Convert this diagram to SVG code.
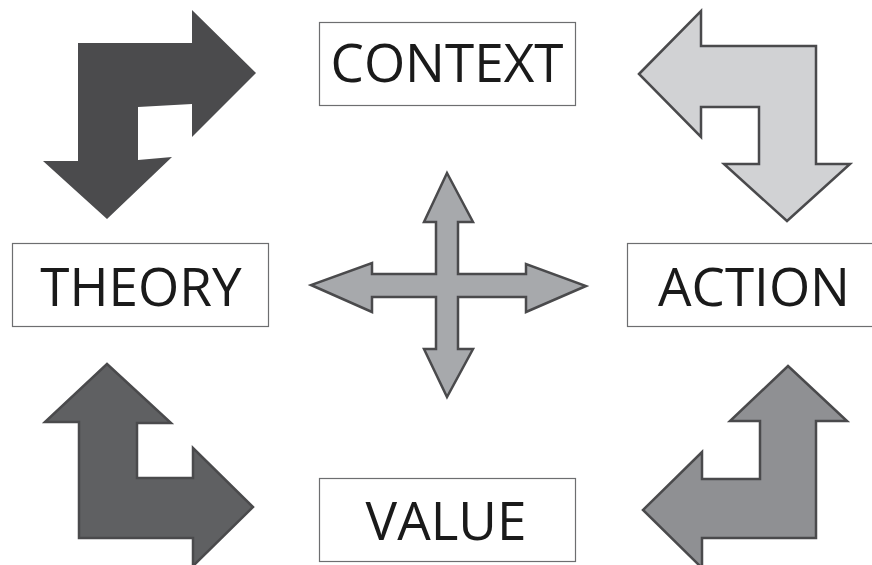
<svg xmlns="http://www.w3.org/2000/svg" width="872" height="565" viewBox="0 0 872 565">
<style>
.box{fill:#fff;stroke:#6d6e70;stroke-width:1.2}
.lbl{font-family:"Open Sans",sans-serif;font-size:53px;fill:#1a1a1a;text-anchor:middle}
.arr{stroke:#4a4a4c;stroke-width:2.5;stroke-linejoin:miter}
</style>
<rect width="872" height="565" fill="#fff"/>
<g id="connectors">
<polygon id="arrow-tl" fill="#4b4b4d" points="256,73 192,10 192,43 78,43 78,161 43,161 107,219 172,157 138,160 138,107 192,104 192,137"/>
<polygon id="arrow-tr" class="arr" fill="#d1d2d4" points="639,74 701,11 701,46 816,46 816,164 850,164 787,221 724,164 759,164 759,107 701,107 701,137"/>
<polygon id="arrow-bl" class="arr" fill="#5f6062" points="107,364 171,423 137,423 137,478 193,478 193,448 253,507 193,566 193,538 79,538 79,422 45,422"/>
<polygon id="arrow-br" class="arr" fill="#8f9093" points="788,366 847,421 816,421 816,538 702,538 702,568 643,510 702,452 702,479 760,479 760,421 730,421"/>
<polygon id="arrow-center" class="arr" fill="#a7a9ac" points="447,173 473,222 458,222 458,274 526,274 526,264 586,286 526,312 526,297 458,297 458,349 473,349 447,397 424,349 436,349 436,297 372,297 372,312 311,285 372,263 372,274 436,274 436,222 424,222"/>
</g>
<g id="context">
<rect class="box" x="319.5" y="22.5" width="256" height="83"/>
<text class="lbl" x="447" y="82">CONTEXT</text>
</g>
<g id="theory">
<rect class="box" x="12.5" y="243.5" width="256" height="83"/>
<text class="lbl" x="141" y="306">THEORY</text>
</g>
<g id="action">
<rect class="box" x="627.5" y="243.5" width="256" height="83"/>
<text class="lbl" x="754" y="306">ACTION</text>
</g>
<g id="value">
<rect class="box" x="319.5" y="478.5" width="256" height="83"/>
<text class="lbl" x="446" y="540">VALUE</text>
</g>
</svg>
